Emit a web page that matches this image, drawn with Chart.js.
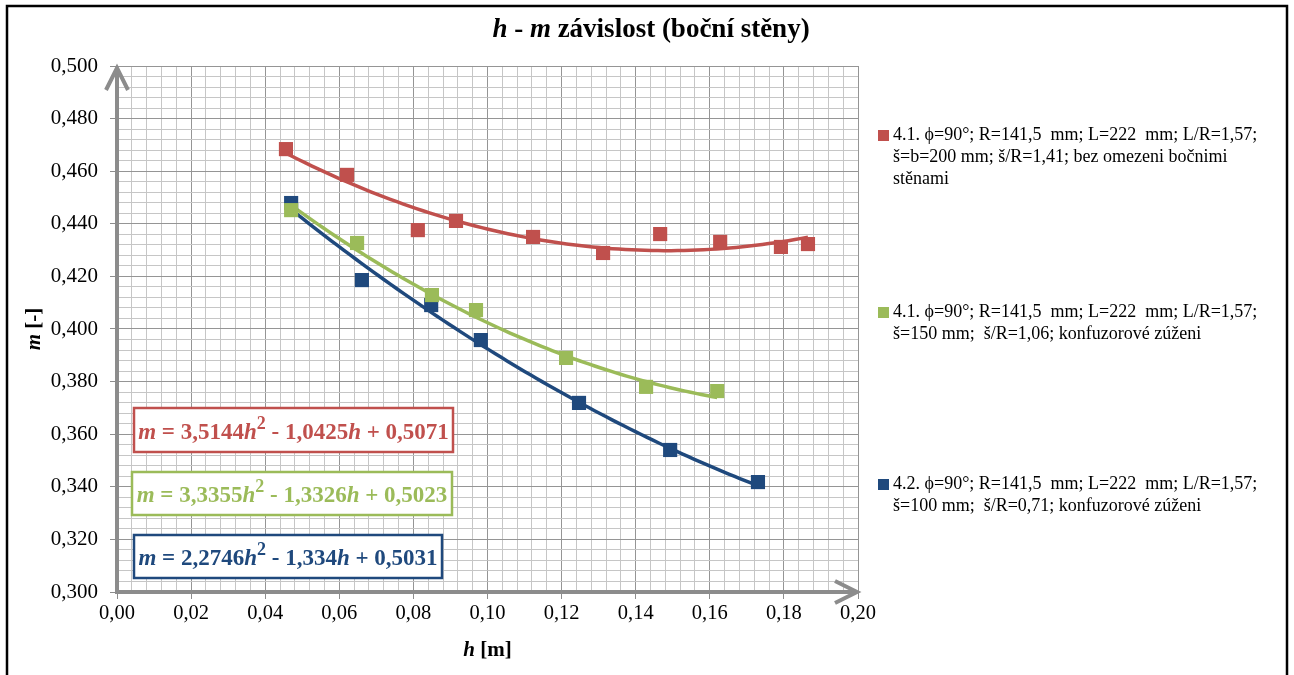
<!DOCTYPE html>
<html>
<head>
<meta charset="utf-8">
<script src="https://cdn.jsdelivr.net/npm/chart.js@4.4.1/dist/chart.umd.min.js"></script>
<style>
  html, body { margin: 0; padding: 0; background: #fff; overflow: hidden; }
  canvas { display: block; }
</style>
</head>
<body>
<canvas id="c" width="1294" height="675"></canvas>
<script>
// Measured points: h [m] and m [-] for each configuration
const hRed   = [0.0456, 0.0621, 0.0812, 0.0915, 0.1123, 0.1312, 0.1466, 0.1628, 0.1792, 0.1865];
const mRed   = [0.4684, 0.4586, 0.4376, 0.4411, 0.4350, 0.4289, 0.4361, 0.4331, 0.4312, 0.4323];
const hGreen = [0.0470, 0.0648, 0.0850, 0.0969, 0.1212, 0.1428, 0.1620];
const mGreen = [0.4452, 0.4327, 0.4129, 0.4072, 0.3890, 0.3780, 0.3764];
const hBlue  = [0.0470, 0.0661, 0.0848, 0.0982, 0.1247, 0.1493, 0.1730];
const mBlue  = [0.4479, 0.4186, 0.4091, 0.3958, 0.3719, 0.3540, 0.3418];

// Quadratic trendline coefficients [a, b, c] : m = a*h^2 + b*h + c
const fitRed   = [3.5144, -1.0425, 0.5071];
const fitGreen = [3.3355, -1.3326, 0.5023];
const fitBlue  = [2.2746, -1.334, 0.5031];

// Legend text, one array of lines per series
const labelRed   = ['4.1. \u03D5=90°; R=141,5  mm; L=222  mm; L/R=1,57;', 'š=b=200 mm; š/R=1,41; bez omezeni bočnimi', 'stěnami'];
const labelGreen = ['4.1. \u03D5=90°; R=141,5  mm; L=222  mm; L/R=1,57;', 'š=150 mm;  š/R=1,06; konfuzorové zúženi'];
const labelBlue  = ['4.2. \u03D5=90°; R=141,5  mm; L=222  mm; L/R=1,57;', 'š=100 mm;  š/R=0,71; konfuzorové zúženi'];

// Axis ranges and tick spacing
const xRange = [0, 0.2];
const yRange = [0.3, 0.5];
const majorStep = 0.02;
const minorStep = 0.004;

const RED = '#C0504D', GREEN = '#9BBB59', BLUE = '#1F497D';
const SERIF = '"Liberation Serif", "Times New Roman", serif';

const pts = (hs, ms) => hs.map((h, i) => ({ x: h, y: ms[i] }));

// Trendline sampled across the measured h span of a series
function trend(coef, hs) {
  const lo = Math.min(...hs), hi = Math.max(...hs), n = 80, out = [];
  for (let i = 0; i <= n; i++) {
    const h = lo + (hi - lo) * i / n;
    out.push({ x: h, y: coef[0] * h * h + coef[1] * h + coef[2] });
  }
  return out;
}

const isMajor = v => Math.abs(v / majorStep - Math.round(v / majorStep)) < 1e-6;
const comma = s => s.replace('.', ',');

// Draw a run of mixed bold / bold-italic / superscript text
function fontFor(r, size) {
  const s = r.sup ? Math.round(size * 0.8) : size;
  return (r.i ? 'italic ' : '') + 'bold ' + s + 'px ' + SERIF;
}
function runsWidth(ctx, runs, size) {
  let w = 0;
  runs.forEach(r => { ctx.font = fontFor(r, size); w += ctx.measureText(r.t).width; });
  return w;
}
function drawRuns(ctx, runs, x, y, size, color, align) {
  const w = runsWidth(ctx, runs, size);
  let cx = align === 'left' ? x : x - w / 2;
  ctx.fillStyle = color;
  ctx.textBaseline = 'middle';
  ctx.textAlign = 'left';
  runs.forEach(r => {
    ctx.font = fontFor(r, size);
    ctx.fillText(r.t, cx, r.sup ? y - size * 0.38 : y);
    cx += ctx.measureText(r.t).width;
  });
}

function eqRuns(coef) {
  const num = v => comma(String(Math.abs(v)));
  const sign = v => (v < 0 ? ' - ' : ' + ');
  return [
    { t: 'm', i: true }, { t: ' = ' + num(coef[0]) }, { t: 'h', i: true }, { t: '2', sup: true },
    { t: sign(coef[1]) + num(coef[1]) }, { t: 'h', i: true },
    { t: sign(coef[2]) + num(coef[2]) }
  ];
}

const decorations = {
  id: 'decorations',
  beforeDraw(chart) {
    const ctx = chart.ctx;
    ctx.save();
    ctx.fillStyle = '#fff';
    ctx.fillRect(0, 0, chart.width, chart.height);
    ctx.restore();
  },
  beforeDatasetsDraw(chart) {
    const ctx = chart.ctx, a = chart.chartArea;
    ctx.save();
    ctx.strokeStyle = '#8c8c8c';
    ctx.lineWidth = 4;
    ctx.lineCap = 'butt';
    ctx.lineJoin = 'miter';
    // vertical axis with arrow
    ctx.beginPath();
    ctx.moveTo(a.left, a.bottom + 2);
    ctx.lineTo(a.left, a.top + 2);
    ctx.stroke();
    ctx.beginPath();
    ctx.moveTo(a.left - 11, a.top + 24);
    ctx.lineTo(a.left, a.top + 2);
    ctx.lineTo(a.left + 11, a.top + 24);
    ctx.stroke();
    // horizontal axis with arrow
    ctx.beginPath();
    ctx.moveTo(a.left - 2, a.bottom);
    ctx.lineTo(a.right - 1, a.bottom);
    ctx.stroke();
    ctx.beginPath();
    ctx.moveTo(a.right - 23, a.bottom - 11);
    ctx.lineTo(a.right - 1, a.bottom);
    ctx.lineTo(a.right - 23, a.bottom + 11);
    ctx.stroke();
    ctx.restore();
  },
  afterDraw(chart) {
    const ctx = chart.ctx, a = chart.chartArea;
    ctx.save();

    // outer frame
    ctx.strokeStyle = '#000';
    ctx.lineWidth = 2.5;
    ctx.strokeRect(7, 6, 1280, 680);

    // title
    drawRuns(ctx, [{ t: 'h', i: true }, { t: ' - ' }, { t: 'm', i: true }, { t: ' závislost (boční stěny)' }],
      651, 30, 27, '#000', 'center');

    // axis titles
    drawRuns(ctx, [{ t: 'h', i: true }, { t: ' [m]' }], (a.left + a.right) / 2, 651, 21, '#000', 'center');
    ctx.save();
    ctx.translate(35, (a.top + a.bottom) / 2);
    ctx.rotate(-Math.PI / 2);
    drawRuns(ctx, [{ t: 'm', i: true }, { t: ' [-]' }], 0, 0, 21, '#000', 'center');
    ctx.restore();

    // legend
    const legend = [
      { color: RED, lines: labelRed, y: 135 },
      { color: GREEN, lines: labelGreen, y: 312 },
      { color: BLUE, lines: labelBlue, y: 484 }
    ];
    ctx.font = '18px ' + SERIF;
    ctx.textBaseline = 'middle';
    ctx.textAlign = 'left';
    legend.forEach(e => {
      ctx.fillStyle = e.color;
      ctx.fillRect(878, e.y - 5, 11, 11);
      ctx.fillStyle = '#000';
      e.lines.forEach((ln, k) => ctx.fillText(ln, 893, e.y + k * 22));
    });

    // trendline equation boxes
    const boxes = [
      { coef: fitRed, color: RED, r: [134, 408, 319, 44] },
      { coef: fitGreen, color: GREEN, r: [132, 472, 320, 43] },
      { coef: fitBlue, color: BLUE, r: [134, 535, 308, 43] }
    ];
    boxes.forEach(b => {
      ctx.fillStyle = '#fff';
      ctx.fillRect(b.r[0], b.r[1], b.r[2], b.r[3]);
      ctx.strokeStyle = b.color;
      ctx.lineWidth = 2.5;
      ctx.strokeRect(b.r[0], b.r[1], b.r[2], b.r[3]);
      drawRuns(ctx, eqRuns(b.coef), b.r[0] + b.r[2] / 2, b.r[1] + b.r[3] / 2 + 3, 23, b.color, 'center');
    });
    ctx.restore();
  }
};

const gridColor = c => (isMajor(c.tick.value) ? '#959595' : '#c6c6c6');
const tickColor = c => (isMajor(c.tick.value) ? '#8c8c8c' : 'rgba(0,0,0,0)');

const markerSet = (label, data, color) => ({
  label, data, showLine: false, pointStyle: 'rect', pointRadius: 10, pointHoverRadius: 10,
  backgroundColor: color, borderColor: color, borderWidth: 0, order: 0
});
const trendSet = (label, data, color) => ({
  label, data, showLine: true, pointRadius: 0, borderColor: color, borderWidth: 3.5,
  fill: false, tension: 0, order: 1
});

new Chart(document.getElementById('c'), {
  type: 'scatter',
  data: {
    datasets: [
      trendSet('trend red', trend(fitRed, hRed), RED),
      trendSet('trend green', trend(fitGreen, hGreen), GREEN),
      trendSet('trend blue', trend(fitBlue, hBlue), BLUE),
      markerSet(labelRed.join(' '), pts(hRed, mRed), RED),
      markerSet(labelGreen.join(' '), pts(hGreen, mGreen), GREEN),
      markerSet(labelBlue.join(' '), pts(hBlue, mBlue), BLUE)
    ]
  },
  options: {
    responsive: false,
    animation: false,
    devicePixelRatio: 1,
    layout: { padding: { left: 0, top: 66, right: 436, bottom: 0 } },
    plugins: { legend: { display: false }, title: { display: false }, tooltip: { enabled: false } },
    scales: {
      x: {
        type: 'linear', min: xRange[0], max: xRange[1],
        border: { display: false },
        grid: { color: gridColor, tickColor: tickColor, tickLength: 7, lineWidth: 1 },
        ticks: {
          stepSize: minorStep, autoSkip: false, maxRotation: 0, padding: 2,
          color: '#000', font: { family: SERIF, size: 20.5 },
          callback: v => (isMajor(v) ? comma(v.toFixed(2)) : '')
        },
        afterFit: s => { s.height = 83; }
      },
      y: {
        type: 'linear', min: yRange[0], max: yRange[1],
        border: { display: false },
        grid: { color: gridColor, tickColor: tickColor, tickLength: 7, lineWidth: 1 },
        ticks: {
          stepSize: minorStep, autoSkip: false, padding: 12,
          color: '#000', font: { family: SERIF, size: 21 },
          callback: v => (isMajor(v) ? comma(v.toFixed(3)) : '')
        },
        afterFit: s => { s.width = 117; }
      }
    }
  },
  plugins: [decorations]
});
</script>
</body>
</html>
